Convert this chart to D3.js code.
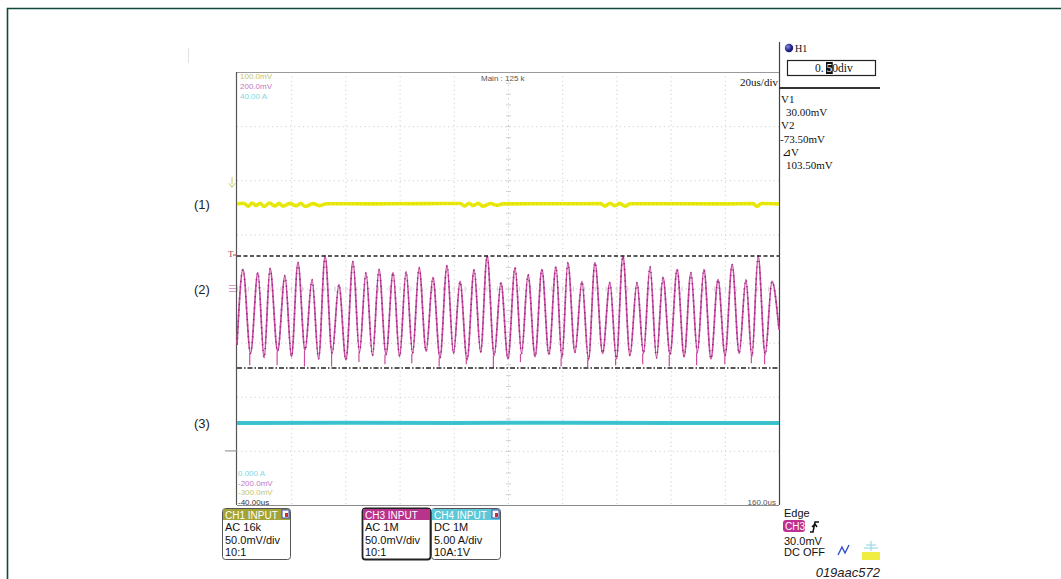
<!DOCTYPE html>
<html><head><meta charset="utf-8">
<script src="https://cdn.jsdelivr.net/npm/d3@7"></script>
<style>html,body{margin:0;padding:0;background:#fff;}svg{display:block;}</style>
</head><body>
<svg id="scope" width="1061" height="579"></svg>
<script>
// ---- time base and channel ranges ----
const timeTicks = [-40, -20, 0, 20, 40, 60, 80, 100, 120, 140, 160]; // us, 20us/div
const ch1Range = [-300, 100];   // mV  (CH1 50.0mV/div)
const ch3Range = [-200, 200];   // mV  (CH3 50.0mV/div)
const ch4Range = [0, 40];       // A   (CH4 5.00 A/div)
const ch3Ticks = [-200, -150, -100, -50, 0, 50, 100, 150, 200];

// ---- CH3 trace (2): peaks, troughs and trough spikes ----
const ch3PeakTimes = [-37.8, -32.3, -27.8, -22.3, -17.5, -12.3, -7.5, -2.4, 2.8, 7.6,
  12.4, 17.6, 22.4, 27.2, 32.3, 37.5, 42.3, 47.5, 52.3, 57.4,
  62.6, 67.4, 72.5, 77.7, 82.1, 87.3, 92.1, 97.6, 102.4, 107.6,
  112.4, 117.2, 122.4, 127.5, 132.3, 137.5, 142.7, 147.8, 152.3, 157.4];
const ch3PeakValues = [17.6, 14.8, 18.5, 12.0, 24.0, 8.3, 30.0, 3.7, 25.0, 14.8,
  17.6, 14.8, 15.7, 19.4, 10.2, 21.3, 6.5, 17.6, 30.0, 5.5,
  19.4, 12.9, 17.6, 20.3, 24.0, 6.5, 24.0, 5.5, 30.0, 5.5,
  20.3, 10.2, 17.6, 14.8, 17.6, 8.3, 22.2, 8.3, 30.0, 6.5];
const ch3TroughTimes = [-40, -35.0, -30.0, -25.0, -19.9, -14.9, -9.9, -4.9, 0.2, 5.2,
  10.0, 15.0, 20.0, 24.8, 29.8, 34.9, 39.9, 44.9, 49.9, 54.9,
  60.0, 65.0, 70.0, 75.1, 79.9, 84.7, 89.7, 94.9, 100.0, 105.0,
  110.0, 114.8, 119.8, 125.0, 129.9, 134.9, 140.1, 145.3, 150.0, 154.9, 160];
const ch3TroughValues = [-52, -60, -64, -58, -63, -57, -65, -60, -66, -59,
  -62, -61, -63, -60, -58, -64, -60, -66, -59, -62,
  -65, -60, -63, -61, -64, -59, -66, -60, -65, -62,
  -60, -64, -61, -63, -59, -65, -62, -60, -63, -61, -38];
const ch3SpikeTimes = [-35.3, -25.2, -15.1, -5.1, 5.0, 14.6, 24.5, 34.6, 44.6, 54.6,
  64.6, 79.6, 89.4, 99.7, 109.7, 119.5, 129.6, 140.0, 149.8, 154.7];
const ch3SpikeValues = [-71, -71, -72, -72, -68, -70, -69, -72, -70, -73.5,
  -68, -72, -72.5, -71, -70, -72, -71, -70, -69, -70];

// ---- CH1 trace (1) ----
const ch1Times = [-40, -37.5, -35.9, -34.4, -33.0, -31.5, -30.0, -28.0, -26.0, -24.5,
  -23.0, -20.5, -18.2, -16.5, -14.9, -12.0, -9.4, -7.0, 10, 30,
  42.5, 44.1, 45.6, 47.1, 49.0, 50.8, 53.5, 55.9, 58, 80,
  94.2, 95.8, 97.6, 99.5, 101.3, 103.2, 105, 140, 150.4, 151.9, 153.4, 160];
const ch1Values = [-21.8, -21.2, -24.0, -21.0, -23.5, -21.2, -24.2, -21.0, -23.8, -21.3,
  -24.0, -21.4, -23.6, -21.3, -24.2, -21.6, -23.5, -21.7, -21.8, -21.6,
  -21.5, -23.8, -21.2, -23.4, -21.4, -24.0, -21.5, -23.2, -21.8, -21.7,
  -21.6, -23.9, -21.3, -23.5, -21.4, -24.0, -21.7, -21.8, -21.6, -24.2, -21.5, -21.8];

// ---- CH4 trace (3) ----
const ch4Times = [-40, 0, 40, 80, 120, 160];
const ch4Values = [7.58, 7.60, 7.58, 7.60, 7.58, 7.58];
const ch4Marker = 5.0;

// ---- cursors and readouts ----
const cursorV1 = 30.0;
const cursorV2 = -73.5;
const cursorReadouts = ["V1", "30.00mV", "V2", "-73.50mV", "\u22BFV", "103.50mV"];
const topScaleLabels = ["100.0mV", "200.0mV", "40.00 A"];
const bottomScaleLabels = ["0.000 A", "-200.0mV", "-300.0mV", "-40.00us"];
const inputHeaders = ["CH1 INPUT", "CH3 INPUT", "CH4 INPUT"];
const inputCoupling = ["AC 16k", "AC 1M", "DC 1M"];
const inputScale = ["50.0mV/div", "50.0mV/div", "5.00 A/div"];
const inputProbe = ["10:1", "10:1", "10A:1V"];
const traceLabels = ["(1)", "(2)", "(3)"];

// ---- layout ----
const svg = d3.select("#scope");
const plot = {left: 237, right: 779, top: 72, bottom: 505};
const x = d3.scaleLinear().domain([timeTicks[0], timeTicks[timeTicks.length - 1]]).range([plot.left, plot.right]);
const y1 = d3.scaleLinear().domain(ch1Range).range([plot.bottom, plot.top]);
const y3 = d3.scaleLinear().domain(ch3Range).range([plot.bottom, plot.top]);
const y4 = d3.scaleLinear().domain(ch4Range).range([plot.bottom, plot.top]);

const colCh1 = "#e9e90a", colCh3 = "#cc4aa2", colCh4 = "#3fc6d3";

// page frame
svg.append("path").attr("d", "M7.5,579 V8.5 H1061").attr("fill", "none")
  .attr("stroke", "#0d4a3c").attr("stroke-width", 1.6);
svg.append("line").attr("x1", 188.5).attr("x2", 188.5).attr("y1", 48).attr("y2", 63)
  .attr("stroke", "#e2e2e2").attr("stroke-width", 1);

// ---- graticule ----
const grid = svg.append("g");
grid.selectAll("line.v").data(timeTicks.slice(1, -1)).join("line")
  .attr("x1", d => x(d) + 0.5).attr("x2", d => x(d) + 0.5)
  .attr("y1", plot.top).attr("y2", plot.bottom)
  .attr("stroke", "#c8c8c8").attr("stroke-width", 1).attr("stroke-dasharray", "1,3.4");
grid.selectAll("line.h").data(ch3Ticks.slice(1, -1)).join("line")
  .attr("x1", plot.left).attr("x2", plot.right)
  .attr("y1", d => y3(d) + 0.5).attr("y2", d => y3(d) + 0.5)
  .attr("stroke", "#c8c8c8").attr("stroke-width", 1).attr("stroke-dasharray", "1,3.4");
// minor tick marks along the centre cross
const xMinor = d3.range(timeTicks[0], timeTicks[timeTicks.length - 1] + 0.01, 4);
const yMinor = d3.range(ch3Range[0], ch3Range[1] + 0.01, 10);
const xc = x(60), yc = y3(0);
grid.selectAll("line.mx").data(xMinor).join("line")
  .attr("x1", d => x(d) + 0.5).attr("x2", d => x(d) + 0.5)
  .attr("y1", yc - 2).attr("y2", yc + 3).attr("stroke", "#d2d2d2");
grid.selectAll("line.my").data(yMinor).join("line")
  .attr("y1", d => y3(d) + 0.5).attr("y2", d => y3(d) + 0.5)
  .attr("x1", xc - 2).attr("x2", xc + 3).attr("stroke", "#d2d2d2");

// plot border
svg.append("line").attr("x1", plot.left).attr("x2", plot.right).attr("y1", plot.top + 0.5).attr("y2", plot.top + 0.5)
  .attr("stroke", "#9a9a9a");
svg.append("line").attr("x1", plot.left).attr("x2", plot.right).attr("y1", plot.bottom + 0.5).attr("y2", plot.bottom + 0.5)
  .attr("stroke", "#8a8a8a");
svg.append("line").attr("x1", plot.left - 0.5).attr("x2", plot.left - 0.5).attr("y1", plot.top).attr("y2", plot.bottom)
  .attr("stroke", "#555").attr("stroke-width", 1.2);
svg.append("line").attr("x1", plot.right + 0.5).attr("x2", plot.right + 0.5).attr("y1", 42).attr("y2", plot.bottom)
  .attr("stroke", "#444").attr("stroke-width", 1.2);

// ---- traces ----
const line1 = d3.line().x(d => x(d[0])).y(d => y1(d[1])).curve(d3.curveMonotoneX);
const ch1Pts = ch1Times.map((t, i) => [t, ch1Values[i]]);
svg.append("path").attr("d", line1(ch1Pts)).attr("fill", "none")
  .attr("stroke", colCh1).attr("stroke-width", 3.6);
svg.append("path").attr("d", line1(ch1Pts)).attr("fill", "none")
  .attr("stroke", "#a8a830").attr("stroke-width", 0.7).attr("stroke-dasharray", "1,3").attr("opacity", 0.6);

const line4 = d3.line().x(d => x(d[0])).y(d => y4(d[1]));
const ch4Pts = ch4Times.map((t, i) => [t, ch4Values[i]]);
svg.append("path").attr("d", line4(ch4Pts)).attr("fill", "none")
  .attr("stroke", colCh4).attr("stroke-width", 4);
svg.append("path").attr("d", line4(ch4Pts)).attr("fill", "none")
  .attr("stroke", "#2aa7b6").attr("stroke-width", 0.8).attr("opacity", 0.5);

// CH3: peaks and troughs merged in time order
const ch3Pts = ch3PeakTimes.map((t, i) => [t, ch3PeakValues[i]])
  .concat(ch3TroughTimes.map((t, i) => [t, ch3TroughValues[i]]))
  .sort((a, b) => a[0] - b[0]);
const line3 = d3.line().x(d => x(d[0])).y(d => y3(d[1])).curve(d3.curveMonotoneX);
svg.append("path").attr("d", line3(ch3Pts)).attr("fill", "none")
  .attr("stroke", colCh3).attr("stroke-width", 1.7);
svg.append("path").attr("d", line3(ch3Pts)).attr("fill", "none")
  .attr("stroke", "#7a1f6c").attr("stroke-width", 1.6).attr("stroke-dasharray", "1.2,4.5").attr("opacity", 0.8);
// narrow noise spikes at the troughs
const troughAt = d3.scaleLinear().domain(ch3TroughTimes).range(ch3TroughValues);
svg.selectAll("line.spike").data(ch3SpikeTimes).join("line")
  .attr("x1", d => x(d)).attr("x2", d => x(d))
  .attr("y1", d => y3(troughAt(d))).attr("y2", (d, i) => y3(ch3SpikeValues[i]))
  .attr("stroke", colCh3).attr("stroke-width", 1.2);

// ---- cursors ----
svg.append("line").attr("x1", plot.left).attr("x2", plot.right)
  .attr("y1", y3(cursorV1)).attr("y2", y3(cursorV1))
  .attr("stroke", "#222").attr("stroke-width", 1.4).attr("stroke-dasharray", "4,2.5");
svg.append("line").attr("x1", plot.left).attr("x2", plot.right)
  .attr("y1", y3(cursorV2)).attr("y2", y3(cursorV2))
  .attr("stroke", "#222").attr("stroke-width", 1.4).attr("stroke-dasharray", "5,2,1.5,2");

// ---- left-edge markers ----
const gy1 = y1(0);
svg.append("path").attr("d", `M232,${gy1 - 3} V${gy1 + 4} M229,${gy1 + 3} L232,${gy1 + 7} L235,${gy1 + 3}`)
  .attr("fill", "none").attr("stroke", "#c8c860").attr("stroke-width", 1);
svg.append("text").attr("x", 228).attr("y", y3(cursorV1) + 1).attr("font-family", "Liberation Serif")
  .attr("font-size", 9).attr("fill", "#a04848").text("T");
svg.append("path").attr("d", `M233,${y3(cursorV1) - 1} H237`).attr("stroke", "#a04848");
const gy3 = y3(0);
svg.append("path").attr("d", `M229,${gy3 - 3} H236 M229,${gy3} H236 M229,${gy3 + 3} H236`)
  .attr("stroke", "#d890c8").attr("stroke-width", 0.9);
svg.append("line").attr("x1", 225).attr("x2", 237).attr("y1", y4(ch4Marker)).attr("y2", y4(ch4Marker))
  .attr("stroke", "#9a9a9a").attr("stroke-width", 1.2);

// ---- trace labels ----
const labelVals = [[ch1Values[0], y1], [0, y3], [ch4Values[0], y4]];
svg.selectAll("text.tl").data(traceLabels).join("text")
  .attr("x", 194).attr("y", (d, i) => labelVals[i][1](labelVals[i][0]) + 5)
  .attr("font-family", "Liberation Sans, Arial").attr("font-size", 13).attr("fill", "#222").text(d => d);

// ---- on-screen scale readouts ----
const smallFont = "Liberation Sans, Arial";
const topCols = ["#c4c46a", "#c478c4", "#7fd6e2"];
svg.selectAll("text.ts").data(topScaleLabels).join("text")
  .attr("x", 240).attr("y", (d, i) => 79 + i * 10)
  .attr("font-family", smallFont).attr("font-size", 8).attr("fill", (d, i) => topCols[i]).text(d => d);
const botCols = ["#7fd6e2", "#c478c4", "#c4c46a", "#333"];
svg.selectAll("text.bs").data(bottomScaleLabels).join("text")
  .attr("x", 238).attr("y", (d, i) => 476 + i * 9.5)
  .attr("font-family", smallFont).attr("font-size", 8).attr("fill", (d, i) => botCols[i]).text(d => d);
svg.append("text").attr("x", 776).attr("y", 505).attr("text-anchor", "end")
  .attr("font-family", smallFont).attr("font-size", 8).attr("fill", "#555").text(timeTicks[timeTicks.length - 1].toFixed(1) + "us");
svg.append("text").attr("x", 481).attr("y", 81).attr("font-family", smallFont)
  .attr("font-size", 8).attr("fill", "#555").text("Main : 125 k");
svg.append("text").attr("x", 778).attr("y", 86).attr("text-anchor", "end")
  .attr("font-family", "Liberation Serif").attr("font-size", 11).attr("fill", "#111").text("20us/div");

// ---- cursor panel ----
const grad = svg.append("defs").append("radialGradient").attr("id", "knob").attr("cx", "35%").attr("cy", "35%");
grad.append("stop").attr("offset", "0%").attr("stop-color", "#8a8ae0");
grad.append("stop").attr("offset", "100%").attr("stop-color", "#1c1c80");
svg.append("circle").attr("cx", 789).attr("cy", 48).attr("r", 4.2).attr("fill", "url(#knob)");
svg.append("text").attr("x", 795).attr("y", 52).attr("font-family", "Liberation Serif")
  .attr("font-size", 10).attr("fill", "#111").text("H1");
svg.append("rect").attr("x", 787.5).attr("y", 60.5).attr("width", 88).attr("height", 15)
  .attr("fill", "#fff").attr("stroke", "#222").attr("stroke-width", 1.2);
// edit cursor sits behind the selected digit
const caret = svg.append("rect").attr("y", 62).attr("height", 12).attr("fill", "#111");
const h1 = svg.append("text").attr("x", 815).attr("y", 72).attr("font-family", "Liberation Serif")
  .attr("font-size", 11.5).attr("fill", "#111");
h1.append("tspan").text("0. ");
h1.append("tspan").attr("fill", "#fff").text("5");
h1.append("tspan").text("0div");
const digitBox = h1.node().getExtentOfChar(3);
caret.attr("x", digitBox.x - 0.5).attr("width", digitBox.width + 1);
svg.append("line").attr("x1", 779).attr("x2", 880).attr("y1", 88).attr("y2", 88)
  .attr("stroke", "#333").attr("stroke-width", 2);
const readX = [781, 786, 781, 780, 782, 786];
svg.selectAll("text.cr").data(cursorReadouts).join("text")
  .attr("x", (d, i) => readX[i]).attr("y", (d, i) => 103 + i * 13.2)
  .attr("font-family", "Liberation Serif").attr("font-size", 11).attr("fill", "#111").text(d => d);

// ---- input channel boxes ----
const boxX = [222, 362, 431];
const boxW = [68, 68, 69];
const headCols = ["#a3a336", "#b8338c", "#5cc8d8"];
const boxG = svg.selectAll("g.box").data(inputHeaders).join("g")
  .attr("transform", (d, i) => `translate(${boxX[i]},508)`);
boxG.append("rect").attr("x", 0.5).attr("y", 0.5).attr("width", (d, i) => boxW[i]).attr("height", 51)
  .attr("rx", 3).attr("fill", "#fff").attr("stroke", (d, i) => i === 1 ? "#222" : "#555")
  .attr("stroke-width", (d, i) => i === 1 ? 1.8 : 1);
boxG.append("rect").attr("x", 1).attr("y", 1).attr("width", (d, i) => boxW[i] - 1).attr("height", 11)
  .attr("fill", (d, i) => headCols[i]);
boxG.append("text").attr("x", 3).attr("y", 10.5).attr("font-family", smallFont).attr("font-size", 10)
  .attr("fill", "#fff").text(d => d);
boxG.filter((d, i) => i !== 1).append("rect").attr("x", (d, i) => (i === 0 ? boxW[0] : boxW[2]) - 8)
  .attr("y", 2).attr("width", 7).attr("height", 8).attr("fill", "#fff").attr("stroke", "#3c50b0").attr("stroke-width", 1);
boxG.filter((d, i) => i !== 1).append("rect").attr("x", (d, i) => (i === 0 ? boxW[0] : boxW[2]) - 5)
  .attr("y", 5).attr("width", 3).attr("height", 4).attr("fill", "#c83030");
const boxLines = [inputCoupling, inputScale, inputProbe];
boxLines.forEach((arr, k) => {
  boxG.append("text").attr("x", 3).attr("y", 23 + k * 12.5).attr("font-family", smallFont)
    .attr("font-size", 11).attr("fill", "#111").text((d, i) => arr[i]);
});

// ---- trigger panel ----
svg.append("text").attr("x", 784).attr("y", 517).attr("font-family", smallFont).attr("font-size", 11)
  .attr("fill", "#111").text("Edge");
svg.append("rect").attr("x", 783).attr("y", 520).attr("width", 22).attr("height", 12).attr("rx", 3).attr("fill", "#c03090");
svg.append("text").attr("x", 785).attr("y", 530).attr("font-family", smallFont).attr("font-size", 10)
  .attr("fill", "#fff").text("CH3");
svg.append("path").attr("d", "M810,532 H813 L815,522 H819 M812,527 L815,524 L817,527")
  .attr("fill", "none").attr("stroke", "#111").attr("stroke-width", 1.5);
svg.append("text").attr("x", 784).attr("y", 545).attr("font-family", smallFont).attr("font-size", 11)
  .attr("fill", "#111").text(cursorV1.toFixed(1) + "mV");
svg.append("text").attr("x", 784).attr("y", 556).attr("font-family", smallFont).attr("font-size", 11)
  .attr("fill", "#111").text("DC OFF");
svg.append("path").attr("d", "M838,555 L842,547 L845,553 L849,545")
  .attr("fill", "none").attr("stroke", "#3050c8").attr("stroke-width", 1.4);
svg.append("rect").attr("x", 862).attr("y", 552).attr("width", 18).attr("height", 8).attr("fill", "#f0ec40");
svg.append("path").attr("d", "M864,548 H878 M866,545 H876 M871,541 V551")
  .attr("fill", "none").attr("stroke", "#8fd0e0").attr("stroke-width", 1);

// figure code
svg.append("text").attr("x", 880).attr("y", 577).attr("text-anchor", "end")
  .attr("font-family", "Liberation Sans, Arial").attr("font-style", "italic").attr("font-size", 13)
  .attr("fill", "#222").text("019aac572");
</script>
</body></html>
